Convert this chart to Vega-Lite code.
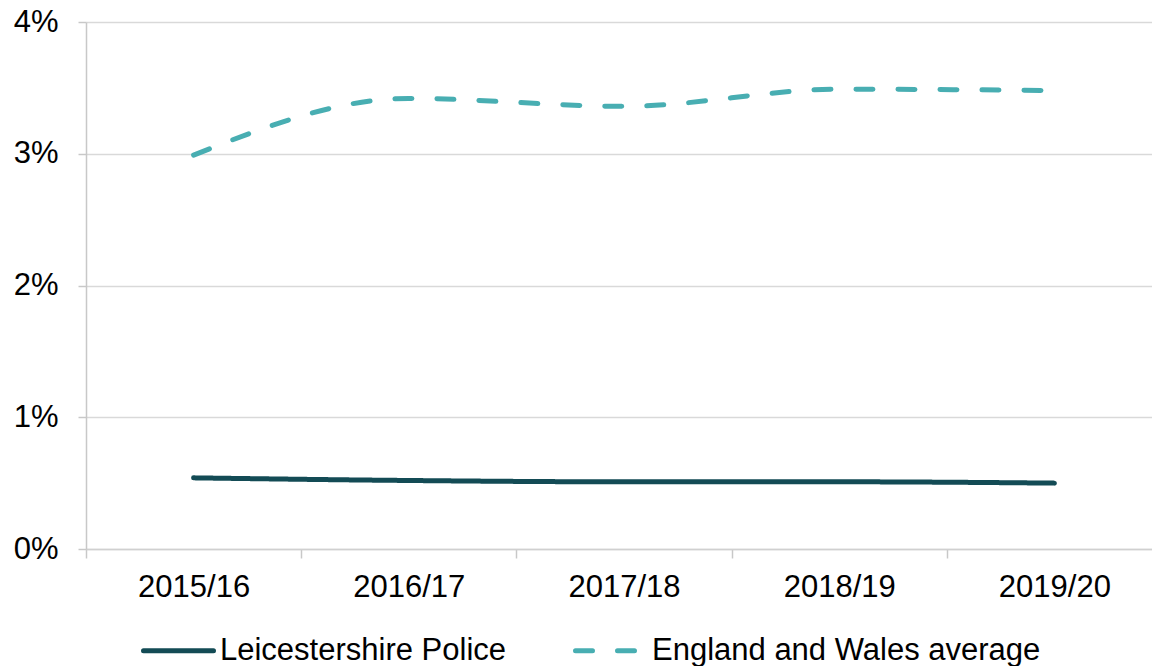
{
  "$schema": "https://vega.github.io/schema/vega-lite/v6.json",
  "width": 1066,
  "height": 527,
  "autosize": {"type": "none"},
  "padding": {"left": 86, "top": 22, "right": 0, "bottom": 117},
  "background": "white",
  "data": {
    "values": [
      {"year": "2015/16", "series": "Leicestershire Police", "value": 0.54},
      {"year": "2016/17", "series": "Leicestershire Police", "value": 0.52},
      {"year": "2017/18", "series": "Leicestershire Police", "value": 0.51},
      {"year": "2018/19", "series": "Leicestershire Police", "value": 0.51},
      {"year": "2019/20", "series": "Leicestershire Police", "value": 0.50},
      {"year": "2015/16", "series": "England and Wales average", "value": 2.99},
      {"year": "2016/17", "series": "England and Wales average", "value": 3.42},
      {"year": "2017/18", "series": "England and Wales average", "value": 3.36},
      {"year": "2018/19", "series": "England and Wales average", "value": 3.49},
      {"year": "2019/20", "series": "England and Wales average", "value": 3.48}
    ]
  },
  "mark": {"type": "line", "interpolate": "monotone", "strokeWidth": 5, "strokeCap": "round"},
  "encoding": {
    "x": {
      "field": "year",
      "type": "ordinal",
      "bandPosition": 0.5,
      "scale": {"type": "band", "paddingInner": 0, "paddingOuter": 0, "range": [0, 1076]},
      "axis": {
        "title": null,
        "labelAngle": 0,
        "tickBand": "extent",
        "grid": false,
        "domainColor": "#D0D0D0",
        "domainWidth": 1.5,
        "tickColor": "#C8C8C8",
        "tickWidth": 1.5,
        "tickSize": 9,
        "labelPadding": 14,
        "labelFont": "Liberation Sans",
        "labelFontSize": 31,
        "labelColor": "#000000"
      }
    },
    "y": {
      "field": "value",
      "type": "quantitative",
      "scale": {"domain": [0, 4], "nice": false},
      "axis": {
        "title": null,
        "values": [0, 1, 2, 3, 4],
        "labelExpr": "datum.value + '%'",
        "grid": true,
        "gridColor": "#D9D9D9",
        "gridWidth": 1.5,
        "domainColor": "#C8C8C8",
        "domainWidth": 1.5,
        "tickColor": "#C8C8C8",
        "tickWidth": 1.5,
        "tickSize": 8,
        "labelPadding": 20,
        "labelFont": "Liberation Sans",
        "labelFontSize": 31,
        "labelColor": "#000000"
      }
    },
    "color": {
      "field": "series",
      "type": "nominal",
      "sort": ["Leicestershire Police", "England and Wales average"],
      "scale": {
        "domain": ["Leicestershire Police", "England and Wales average"],
        "range": ["#134B55", "#48AEB2"]
      },
      "legend": {
        "title": null,
        "orient": "none",
        "legendX": 55,
        "legendY": 591,
        "direction": "horizontal",
        "symbolType": "stroke",
        "symbolSize": 4900,
        "symbolStrokeWidth": 5,
        "labelFont": "Liberation Sans",
        "labelFontSize": 31,
        "labelColor": "#000000",
        "labelLimit": 600,
        "labelOffset": 4,
        "columnPadding": 58,
        "encode": {"symbols": {"update": {"strokeCap": {"value": "round"}}}}
      }
    },
    "strokeDash": {
      "field": "series",
      "type": "nominal",
      "sort": ["Leicestershire Police", "England and Wales average"],
      "scale": {
        "domain": ["Leicestershire Police", "England and Wales average"],
        "range": [[1, 0], [17, 25]]
      },
      "legend": null
    }
  },
  "config": {"view": {"stroke": null}}
}
